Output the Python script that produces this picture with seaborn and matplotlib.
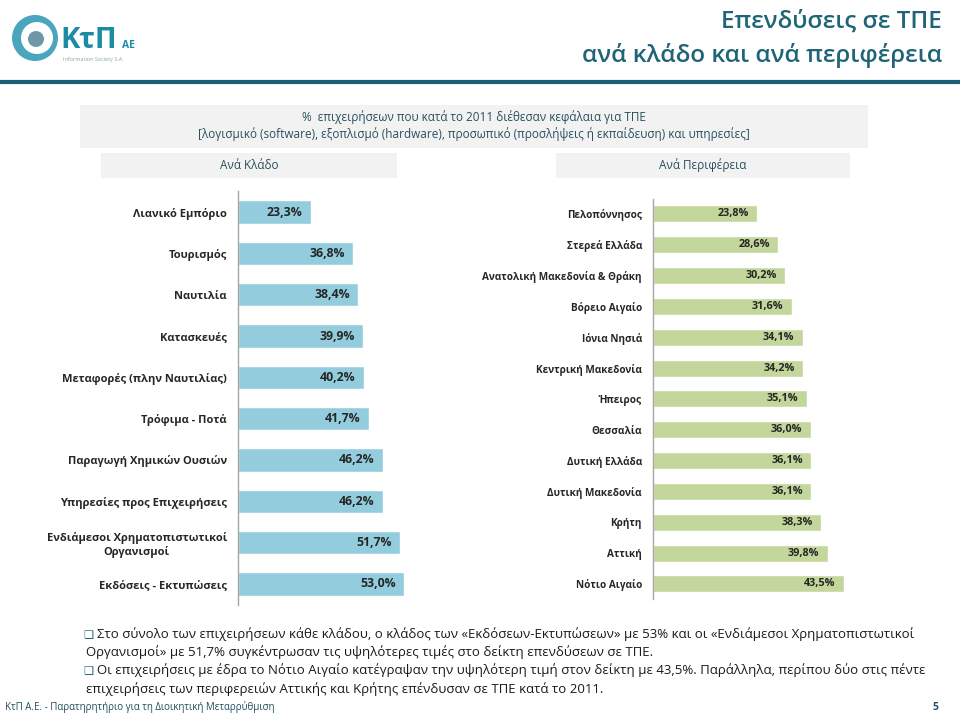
import matplotlib
matplotlib.use("Agg")
import matplotlib.pyplot as plt
import seaborn as sns
import pandas as pd
from matplotlib.patches import Rectangle, Circle
from matplotlib.lines import Line2D

# data
sectors = ["Λιανικό Εμπόριο", "Τουρισμός", "Ναυτιλία", "Κατασκευές",
           "Μεταφορές (πλην Ναυτιλίας)", "Τρόφιμα - Ποτά",
           "Παραγωγή Χημικών Ουσιών", "Υπηρεσίες προς Επιχειρήσεις",
           "Ενδιάμεσοι Χρηματοπιστωτικοί\nΟργανισμοί", "Εκδόσεις - Εκτυπώσεις"]
sector_vals = [23.3, 36.8, 38.4, 39.9, 40.2, 41.7, 46.2, 46.2, 51.7, 53.0]

regions = ["Πελοπόννησος", "Στερεά Ελλάδα", "Ανατολική Μακεδονία & Θράκη",
           "Βόρειο Αιγαίο", "Ιόνια Νησιά", "Κεντρική Μακεδονία", "Ήπειρος",
           "Θεσσαλία", "Δυτική Ελλάδα", "Δυτική Μακεδονία", "Κρήτη",
           "Αττική", "Νότιο Αιγαίο"]
region_vals = [23.8, 28.6, 30.2, 31.6, 34.1, 34.2, 35.1, 36.0, 36.1, 36.1,
               38.3, 39.8, 43.5]

title_lines = ["Επενδύσεις σε ΤΠΕ", "ανά κλάδο και ανά περιφέρεια"]
header = ["%  επιχειρήσεων που κατά το 2011 διέθεσαν κεφάλαια για ΤΠΕ",
          "[λογισμικό (software), εξοπλισμό (hardware), προσωπικό "
          "(προσλήψεις ή εκπαίδευση) και υπηρεσίες]"]
notes = [
    ("❑", "Στο σύνολο των επιχειρήσεων κάθε κλάδου, ο κλάδος των «Εκδόσεων-Εκτυπώσεων» με 53% και οι «Ενδιάμεσοι Χρηματοπιστωτικοί"),
    ("", "Οργανισμοί» με 51,7% συγκέντρωσαν τις υψηλότερες τιμές στο δείκτη επενδύσεων σε ΤΠΕ."),
    ("❑", "Οι επιχειρήσεις με έδρα το Νότιο Αιγαίο κατέγραψαν την υψηλότερη τιμή στον δείκτη με 43,5%. Παράλληλα, περίπου δύο στις πέντε"),
    ("", "επιχειρήσεις των περιφερειών Αττικής και Κρήτης επένδυσαν σε ΤΠΕ κατά το 2011."),
]
footer = "ΚτΠ Α.Ε. - Παρατηρητήριο για τη Διοικητική Μεταρρύθμιση"

sns.set_theme(style="white")
plt.rcParams["font.family"] = ["Open Sans", "DejaVu Sans"]

TEAL = "#1f6477"
HEAD = "#27505e"
BLUE = "#93cddd"
GREEN = "#c3d69b"

fig = plt.figure(figsize=(9.6, 7.15), dpi=100)

# background layer in pixel coordinates
bg = fig.add_axes([0, 0, 1, 1], zorder=0)
bg.set_xlim(0, 960)
bg.set_ylim(715, 0)
bg.axis("off")

# logo
bg.add_patch(Circle((35, 38), 23, facecolor="#4aa6bd", edgecolor="none"))
bg.add_patch(Circle((37, 38), 16, facecolor="white", edgecolor="none"))
bg.add_patch(Circle((36, 39), 8, facecolor="#6f97a6", edgecolor="none"))
bg.text(60, 40, "ΚτΠ", fontsize=21, fontweight="bold", color="#1c8ba5", va="center")
bg.text(122, 46, "ΑΕ", fontsize=7.5, fontweight="bold", color="#1c8ba5", va="center")
bg.text(63, 59, "Information Society S.A.", fontsize=4, color="#8aa4ad", va="center")

# title
bg.text(942, 22, title_lines[0], fontsize=17.5, fontweight="semibold", color=TEAL,
        ha="right", va="center")
bg.text(942, 55, title_lines[1], fontsize=17.5, fontweight="semibold", color=TEAL,
        ha="right", va="center")
bg.add_line(Line2D([0, 960], [82, 82], color="#1b5e75", lw=3))

# header boxes
bg.add_patch(Rectangle((80, 105), 788, 43, facecolor="#f2f2f2", edgecolor="none"))
bg.text(474, 117, header[0], fontsize=8.5, color=HEAD, ha="center", va="center")
bg.text(474, 134, header[1], fontsize=8.5, color=HEAD, ha="center", va="center")
bg.add_patch(Rectangle((101, 153), 296, 25, facecolor="#f2f2f2", edgecolor="none"))
bg.text(249, 165.5, "Ανά Κλάδο", fontsize=8.5, color=HEAD, ha="center", va="center")
bg.add_patch(Rectangle((556, 153), 294, 25, facecolor="#f2f2f2", edgecolor="none"))
bg.text(703, 165.5, "Ανά Περιφέρεια", fontsize=8.5, color=HEAD, ha="center", va="center")

# notes
for (bullet, line), y in zip(notes, [634, 652, 670, 689]):
    if bullet:
        bg.text(83, y, bullet, fontsize=8, color=TEAL, va="center",
                family=["DejaVu Sans"])
        bg.text(97, y, line, fontsize=9.5, color="#1a1a1a", va="center")
    else:
        bg.text(86, y, line, fontsize=9.5, color="#1a1a1a", va="center")

bg.text(5, 707, footer, fontsize=7, color="#1f4e5f", va="center")
bg.text(935, 707, "5", fontsize=7.5, fontweight="bold", color="#1f4e5f",
        va="center", ha="center")


def fmt(v):
    return f"{v:.1f}".replace(".", ",") + "%"


def bar_panel(rect, cats, vals, color, xmax, width, tick_size, val_size):
    ax = fig.add_axes(rect, zorder=1)
    ax.patch.set_alpha(0)
    df = pd.DataFrame({"cat": cats, "val": vals})
    sns.barplot(data=df, x="val", y="cat", orient="h", color=color,
                width=width, saturation=1, ax=ax)
    ax.set_xlim(0, xmax)
    ax.set_ylim(len(cats) - 0.5, -0.5)
    ax.set_xlabel("")
    ax.set_ylabel("")
    ax.set_xticks([])
    for s in ["top", "right", "bottom"]:
        ax.spines[s].set_visible(False)
    ax.spines["left"].set_color("#a6a6a6")
    ax.spines["left"].set_linewidth(1)
    ax.tick_params(axis="y", length=0, pad=8)
    for lab in ax.get_yticklabels():
        lab.set_fontsize(tick_size)
        lab.set_fontweight("bold")
        lab.set_color("#262626")
        lab.set_multialignment("center")
    for i, v in enumerate(vals):
        ax.annotate(fmt(v), (v, i), xytext=(-6, 0), textcoords="offset points",
                    ha="right", va="center", fontsize=val_size,
                    fontweight="bold", color="#262626")
    return ax


bar_panel([238 / 960, 0.1544, 235 / 960, 0.5779], sectors, sector_vals,
          BLUE, 75, 0.56, 8.0, 8.8)
bar_panel([653 / 960, 0.1617, 285 / 960, 0.5606], regions, region_vals,
          GREEN, 65, 0.55, 7.2, 7.8)

fig.savefig("out.png", dpi=100)
